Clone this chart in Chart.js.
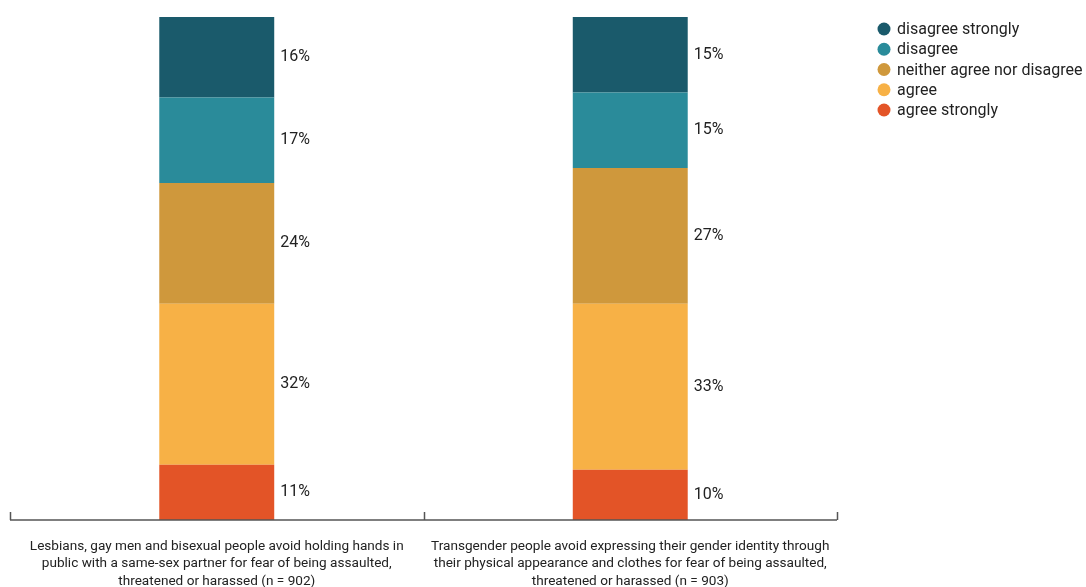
<!DOCTYPE html>
<html>
<head>
<meta charset="utf-8">
<script src="https://cdn.jsdelivr.net/npm/chart.js@4/dist/chart.umd.min.js"></script>
<style>
  html, body { margin: 0; padding: 0; background: #fff; }
  #wrap { width: 1086px; height: 587px; position: relative; }
</style>
</head>
<body>
<div id="wrap"><canvas id="chart-avoid"></canvas></div>
<script>
var categories = [
    ['Lesbians, gay men and bisexual people avoid holding hands in', 'public with a same-sex partner for fear of being assaulted,', 'threatened or harassed (n = 902)'],
    ['Transgender people avoid expressing their gender identity through', 'their physical appearance and clothes for fear of being assaulted,', 'threatened or harassed (n = 903)']
];
var agreeStrongly = [11, 10];
var agree = [32, 33];
var neither = [24, 27];
var disagree = [17, 15];
var disagreeStrongly = [16, 15];

var seriesNames = ['agree strongly', 'agree', 'neither agree nor disagree', 'disagree', 'disagree strongly'];
var seriesColors = ['#e35427', '#f7b146', '#cf983c', '#2a8b9a', '#1a5a6b'];

var fontFamily = 'Roboto, "Noto Sans", sans-serif';

// value labels to the right of each segment
const sideLabels = {
    id: 'sideLabels',
    afterDatasetsDraw(chart) {
        const ctx = chart.ctx;
        ctx.save();
        ctx.fillStyle = '#222';
        ctx.font = '16px ' + fontFamily;
        ctx.textBaseline = 'middle';
        ctx.textAlign = 'left';
        chart.data.datasets.forEach((ds, i) => {
            chart.getDatasetMeta(i).data.forEach((bar, j) => {
                const p = bar.getProps(['x', 'y', 'base', 'width'], true);
                ctx.fillText(ds.data[j] + '%', p.x + p.width / 2 + 6, (p.y + p.base) / 2);
            });
        });
        ctx.restore();
    }
};

// small tick marks rising from the axis line at category boundaries
const boundaryTicks = {
    id: 'boundaryTicks',
    afterDraw(chart) {
        const ctx = chart.ctx;
        const xs = chart.scales.x;
        const bottom = chart.chartArea.bottom;
        ctx.save();
        ctx.strokeStyle = '#555';
        ctx.lineWidth = 1.5;
        ctx.beginPath();
        ctx.moveTo(xs.left, bottom);
        ctx.lineTo(xs.right, bottom);
        const step = (xs.right - xs.left) / categories.length;
        for (let i = 0; i <= categories.length; i++) {
            const x = Math.round(xs.left + step * i) + 0.5;
            ctx.moveTo(x, bottom);
            ctx.lineTo(x, bottom - 8);
        }
        ctx.stroke();
        ctx.restore();
    }
};

// legend in the right margin, top series first
const sideLegend = {
    id: 'sideLegend',
    afterDraw(chart) {
        const ctx = chart.ctx;
        const x0 = chart.chartArea.right + 47;
        ctx.save();
        ctx.font = '16px ' + fontFamily;
        ctx.textBaseline = 'middle';
        ctx.textAlign = 'left';
        const ds = chart.data.datasets.slice().reverse();
        ds.forEach((d, i) => {
            const y = 29 + i * 20.25;
            ctx.fillStyle = d.backgroundColor;
            ctx.beginPath();
            ctx.arc(x0, y, 6.5, 0, Math.PI * 2);
            ctx.fill();
            ctx.fillStyle = '#222';
            ctx.fillText(d.label, x0 + 13, y + 1);
        });
        ctx.restore();
    }
};

const seriesData = [agreeStrongly, agree, neither, disagree, disagreeStrongly];

new Chart(document.getElementById('chart-avoid').getContext('2d'), {
    type: 'bar',
    data: {
        labels: categories,
        datasets: seriesNames.map((name, i) => ({
            label: name,
            data: seriesData[i],
            backgroundColor: seriesColors[i],
            borderWidth: 0,
            barPercentage: 0.278,
            categoryPercentage: 1
        }))
    },
    options: {
        responsive: true,
        maintainAspectRatio: false,
        animation: false,
        layout: { padding: { top: 17, left: 10, right: 249, bottom: 0 } },
        scales: {
            x: {
                stacked: true,
                grid: { display: false },
                border: { display: false },
                afterFit: function (scale) { scale.height = 67; },
                ticks: {
                    color: '#222',
                    font: { family: fontFamily, size: 13.6, lineHeight: 1.27 },
                    maxRotation: 0,
                    autoSkip: false,
                    padding: 10
                }
            },
            y: {
                stacked: true,
                display: false,
                min: 0,
                max: 100
            }
        },
        plugins: {
            legend: { display: false },
            tooltip: { enabled: false }
        }
    },
    plugins: [sideLabels, boundaryTicks, sideLegend]
});
</script>
</body>
</html>
